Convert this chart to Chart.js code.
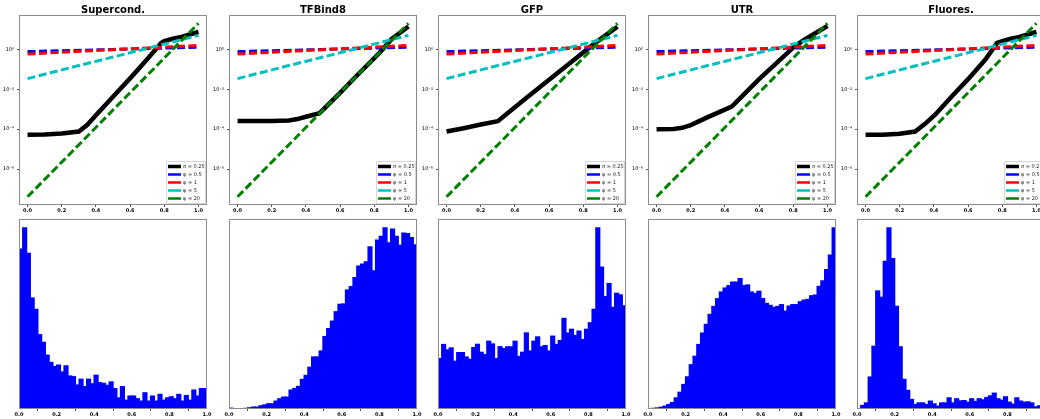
<!DOCTYPE html>
<html><head><meta charset="utf-8">
<script src="https://cdn.jsdelivr.net/npm/chart.js@4.4.0/dist/chart.umd.min.js"></script>
<style>
html,body{margin:0;padding:0;width:1040px;height:419px;overflow:hidden;background:#fff;position:relative;}
canvas{position:absolute;}
</style></head><body>
<script>
// ---------- data ----------
const titles = ['Supercond.', 'TFBind8', 'GFP', 'UTR', 'Fluores.'];
const seriesLabels = ['\u03c3 = 0.25', '\u03c6 = 0.5', '\u03c6 = 1', '\u03c6 = 5', '\u03c6 = 20'];
const seriesColors = ['#000000', '#0000ff', '#ff0000', '#00bfbf', '#008000'];

const xTickValues = [0, 0.2, 0.4, 0.6, 0.8, 1.0];
const yTickValues = [1e-6, 1e-4, 1e-2, 1];

// shared φ curves
const phiX   = [0, 0.25, 0.5, 0.75, 1.0];
const phi05  = [0.77, 0.87, 0.99, 1.12, 1.27];
const phi1   = [0.58, 0.75, 0.96, 1.23, 1.58];
const phi5   = [0.034, 0.12, 0.41, 1.43, 5.0];
const phi20  = [4.1e-8, 6.0e-6, 9.1e-4, 0.135, 20];

// σ = 0.25 curve per panel
const superX = [0, 0.1, 0.2, 0.3, 0.35, 0.4, 0.5, 0.6, 0.7, 0.78, 0.8, 0.85, 0.9, 1.0];
const superY = [5.2e-5, 5.4e-5, 6.0e-5, 7.6e-5, 1.66e-4, 5.0e-4, 4.2e-3, 0.035, 0.32, 2.0, 2.6, 3.4, 4.2, 7.4];
const tfX    = [0, 0.1, 0.2, 0.3, 0.35, 0.4, 0.48, 0.6, 0.7, 0.8, 0.85, 0.9, 1.0];
const tfY    = [2.6e-4, 2.6e-4, 2.6e-4, 2.7e-4, 3.2e-4, 4.2e-4, 6.3e-4, 6.6e-3, 0.05, 0.36, 1.0, 3.2, 14];
const gfpX   = [0, 0.1, 0.2, 0.3, 0.45, 0.6, 0.75, 0.87, 0.93, 1.0];
const gfpY   = [7.6e-5, 1.12e-4, 1.7e-4, 2.5e-4, 2.8e-3, 0.03, 0.32, 2.1, 5.0, 13.5];
const utrX   = [0, 0.1, 0.15, 0.2, 0.3, 0.44, 0.6, 0.7, 0.81, 0.87, 1.0];
const utrY   = [1.0e-4, 1.02e-4, 1.17e-4, 1.6e-4, 4.0e-4, 1.35e-3, 0.032, 0.2, 1.48, 3.2, 14.8];
const fluoX  = [0, 0.1, 0.2, 0.29, 0.35, 0.41, 0.5, 0.6, 0.7, 0.77, 0.8, 0.85, 0.9, 1.0];
const fluoY  = [5.2e-5, 5.3e-5, 5.9e-5, 7.6e-5, 1.9e-4, 5.6e-4, 4.0e-3, 0.032, 0.3, 2.1, 2.6, 3.4, 4.2, 7.4];

// histograms: 50 bins over [0,1], heights relative to tallest bin (=100)
const binStart = 0, binWidth = 0.02;
const superHist = [88.3,100,86,61.3,55,41,36.8,29.7,25.7,23.4,24.2,20.4,23.8,18.2,17.8,13.2,16.4,12.3,16.4,13.9,18.6,14.5,14.1,13,14.9,11.2,6.1,12.3,4.8,7.1,7.1,5.6,4.3,8.9,4.3,7.1,4.3,8,4.8,6.1,6.7,5.6,8,4.3,7.4,4.8,10.4,7.1,11.2,11.2];
const tfHist = [0.4,0,0,0.1,0.3,0.6,1,1,1.7,2.2,2.8,2.8,4.3,5.6,6.5,6.5,10.4,11.3,12.4,16.3,18.5,23,28.7,28.7,32,40,44.4,48.5,53.7,57.8,58,65.7,67.6,72.6,78.9,80,81.3,89.6,76.3,93.3,95.4,100,91.7,99.3,95.4,90.4,97.2,96.9,94.6,90.6];
const gfpHist = [27.8,35.6,32.6,33.7,26.3,31.1,31.1,28.7,27.4,33.9,35.7,31.3,30,37.4,35.9,27.8,34.4,33.3,34.3,34.3,37.4,29,31.3,42,32,37.4,39.8,34.3,35,32,40.2,35.6,37.8,50,41.9,44,40.6,43,38.3,44,47.6,55,100,78.3,62,69.3,56.1,63.9,63,57];
const utrHist = [0.2,0.3,0.5,0.9,1.5,2.4,3.5,6.1,9.2,13.5,17.7,24.4,29.1,35.6,41.9,46.7,52.2,56.6,60.9,64.6,66.8,68.1,70.1,70.1,72,68.1,68.5,64.6,63.8,65,61,58.3,57.2,56.1,56.6,57.6,54,56.8,57.6,57.6,59.2,60.1,60.5,62.5,62.9,67.7,70.7,77,85,100];
const fluoHist = [0.2,1.9,3.3,17.6,34.6,65.2,61.7,81.5,100,83,56.7,34.3,16.3,10.2,5.2,2.4,3.3,3.3,2.4,4.3,2.8,1.5,3.3,3.3,6.1,3.3,5.6,4.4,4.6,3.7,5.6,4.1,5.6,5,6.3,7.2,8.7,5.6,4.8,6.7,3.7,2.6,6.1,4.3,3.7,3.9,3.3,1.1,1.7,1.5];

const blackXs = [superX, tfX, gfpX, utrX, fluoX];
const blackYs = [superY, tfY, gfpY, utrY, fluoY];
const hists = [superHist, tfHist, gfpHist, utrHist, fluoHist];

// ---------- layout ----------
const AXIS_W = 19, PANEL_W = 188, RIGHT_PAD = 8, PANEL_STEP = 209.5;
const CANVAS_W = AXIS_W + PANEL_W + RIGHT_PAD;
const FRAME = '#8c8c8c';

function makeCtx(left, top, w, h) {
  const c = document.createElement('canvas');
  c.width = w; c.height = h;
  c.style.left = left + 'px'; c.style.top = top + 'px';
  c.style.width = w + 'px'; c.style.height = h + 'px';
  document.body.appendChild(c);
  return c.getContext('2d');
}
const toXY = (xs, ys) => xs.map((x, k) => ({x: x, y: ys[k]}));
const SUP = {'-':'\u207b','0':'\u2070','1':'\u00b9','2':'\u00b2','3':'\u00b3','4':'\u2074','5':'\u2075','6':'\u2076','7':'\u2077','8':'\u2078','9':'\u2079'};
const sup = s => String(s).split('').map(ch => SUP[ch] || ch).join('');

const framePlugin = {
  id: 'frame',
  afterDraw(chart) {
    const {ctx, chartArea: a} = chart;
    ctx.save();
    ctx.strokeStyle = FRAME; ctx.lineWidth = 1;
    ctx.strokeRect(Math.round(a.left) + 0.5, Math.round(a.top) + 0.5,
                   Math.round(a.right - a.left) - 1, Math.round(a.bottom - a.top) - 1);
    ctx.restore();
  }
};
const titlePlugin = {
  id: 'panelTitle',
  afterDraw(chart, args, opts) {
    if (!opts.text) return;
    const {ctx, chartArea: a} = chart;
    ctx.save();
    ctx.font = 'bold 10px "DejaVu Sans"';
    ctx.fillStyle = '#000'; ctx.textAlign = 'center'; ctx.textBaseline = 'alphabetic';
    ctx.fillText(opts.text, (a.left + a.right) / 2, a.top - 2);
    ctx.restore();
  }
};
const legendPlugin = {
  id: 'innerLegend',
  afterDatasetsDraw(chart, args, opts) {
    if (!opts.show) return;
    const {ctx, chartArea: a} = chart;
    const w = 39, h = 42;
    const x = a.right - 2 - w, y = a.bottom - 2 - h;
    ctx.save();
    ctx.fillStyle = 'rgba(255,255,255,0.85)';
    ctx.strokeStyle = '#cccccc'; ctx.lineWidth = 0.8;
    ctx.beginPath();
    ctx.rect(x + 0.5, y + 0.5, w, h);
    ctx.fill(); ctx.stroke();
    chart.data.datasets.forEach((ds, k) => {
      const ly = y + 5.5 + k * 8;
      ctx.strokeStyle = ds.borderColor;
      ctx.lineWidth = k === 0 ? 3.5 : 2.5;
      ctx.setLineDash([]);
      ctx.beginPath(); ctx.moveTo(x + 2, ly); ctx.lineTo(x + 15, ly); ctx.stroke();
      ctx.fillStyle = '#222';
      ctx.font = '5px "DejaVu Sans"';
      ctx.textAlign = 'left'; ctx.textBaseline = 'middle';
      ctx.fillText(ds.label, x + 17, ly);
    });
    ctx.restore();
  }
};

const xTickFont = {family: 'DejaVu Sans', size: 5, weight: 'bold'};
function xAxis(min, max, h) {
  return {
    type: 'linear', min: min, max: max, offset: false,
    afterBuildTicks: s => { s.ticks = xTickValues.map(v => ({value: v})); },
    afterFit: s => { s.height = h; },
    grid: {display: true, drawOnChartArea: false, drawTicks: true, tickLength: 2, color: '#555'},
    border: {display: false},
    ticks: {font: xTickFont, color: '#000', padding: 1, maxRotation: 0, autoSkip: false,
            callback: v => Number(v).toFixed(1)}
  };
}

for (let i = 0; i < 5; i++) {
  const left = Math.round(PANEL_STEP * i);

  // ---- top: log-scale weighting curves ----
  const ctxTop = makeCtx(left, 0, CANVAS_W, 218);
  const dashed = (label, xs, ys, color, order) => ({
    label: label, data: toXY(xs, ys), borderColor: color, backgroundColor: color,
    borderWidth: 3, borderDash: [8, 3.5], pointRadius: 0, tension: 0, fill: false, order: order
  });
  new Chart(ctxTop, {
    type: 'line',
    data: {
      datasets: [
        {label: seriesLabels[0], data: toXY(blackXs[i], blackYs[i]), borderColor: seriesColors[0],
         backgroundColor: seriesColors[0], borderWidth: 4.5, pointRadius: 0, tension: 0, fill: false, order: 5},
        dashed(seriesLabels[1], phiX, phi05, seriesColors[1], 4),
        dashed(seriesLabels[2], phiX, phi1, seriesColors[2], 3),
        dashed(seriesLabels[3], phiX, phi5, seriesColors[3], 2),
        dashed(seriesLabels[4], phiX, phi20, seriesColors[4], 1)
      ]
    },
    options: {
      responsive: false, animation: false, devicePixelRatio: 1,
      layout: {padding: {left: 0, right: RIGHT_PAD, top: 15, bottom: 0}},
      plugins: {legend: {display: false}, tooltip: {enabled: false},
                panelTitle: {text: titles[i]}, innerLegend: {show: true}},
      scales: {
        x: xAxis(-0.05, 1.05, 13),
        y: {
          type: 'logarithmic', min: Math.pow(10, -7.8), max: Math.pow(10, 1.72),
          afterBuildTicks: s => { s.ticks = yTickValues.map(v => ({value: v})); },
          afterFit: s => { s.width = AXIS_W; },
          grid: {display: true, drawOnChartArea: false, drawTicks: true, tickLength: 2, color: '#555'},
          border: {display: false},
          ticks: {font: {family: 'DejaVu Sans', size: 5}, color: '#000', padding: 3, autoSkip: false,
                  callback: v => '10' + sup(Math.round(Math.log10(v)))}
        }
      }
    },
    plugins: [framePlugin, titlePlugin, legendPlugin]
  });

  // ---- bottom: histogram ----
  const ctxBot = makeCtx(left, 205, CANVAS_W, 215);
  const hist = hists[i];
  const centers = hist.map((_, k) => binStart + binWidth * (k + 0.5));
  new Chart(ctxBot, {
    type: 'bar',
    data: {
      datasets: [{data: toXY(centers, hist), backgroundColor: '#0000ff', borderWidth: 0,
                  inflateAmount: 0.7, barPercentage: 1, categoryPercentage: 1}]
    },
    options: {
      responsive: false, animation: false, devicePixelRatio: 1,
      layout: {padding: {left: AXIS_W, right: RIGHT_PAD, top: 14, bottom: 0}},
      plugins: {legend: {display: false}, tooltip: {enabled: false}},
      scales: {
        x: xAxis(0, 1, 11),
        y: {display: false, min: 0, max: 105}
      }
    },
    plugins: [framePlugin]
  });
}
</script>
</body></html>
